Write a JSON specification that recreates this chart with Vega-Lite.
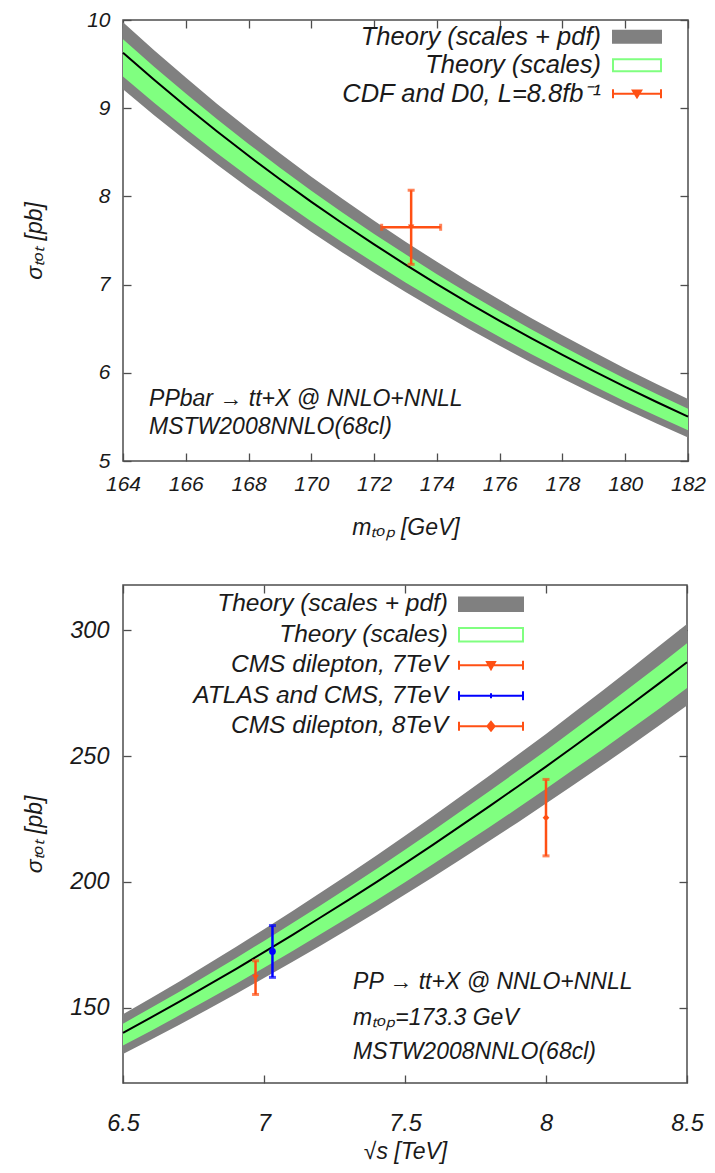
{
  "$schema": "https://vega.github.io/schema/vega-lite/v6.json",
  "background": "white",
  "padding": {"left": 22, "top": 8, "right": 0, "bottom": 0},
  "config": {
    "font": "Liberation Sans",
    "view": {"stroke": "#4d4d4d", "strokeWidth": 1.5},
    "axis": {"grid": false, "domain": false, "tickSize": -8, "tickWidth": 1.3, "tickColor": "#4d4d4d",
      "labelFont": "Liberation Sans", "labelFontStyle": "italic", "labelColor": "#1a1a1a", "labelFontSize": 21,
      "titleFont": "Liberation Sans", "titleFontStyle": "italic", "titleFontWeight": "normal", "titleFontSize": 23, "titleColor": "#1a1a1a",
      "labelOverlap": false, "labelFlush": false, "minExtent": 0}
  },
  "datasets": {
    "top_theory": [
      {"m":164,"c":9.628,"sLo":9.358,"sHi":9.782,"pLo":9.214,"pHi":9.975},
      {"m":165,"c":9.319,"sLo":9.058,"sHi":9.468,"pLo":8.918,"pHi":9.654},
      {"m":166,"c":9.022,"sLo":8.769,"sHi":9.166,"pLo":8.634,"pHi":9.347},
      {"m":167,"c":8.735,"sLo":8.490,"sHi":8.875,"pLo":8.359,"pHi":9.049},
      {"m":168,"c":8.460,"sLo":8.223,"sHi":8.595,"pLo":8.096,"pHi":8.765},
      {"m":169,"c":8.194,"sLo":7.965,"sHi":8.325,"pLo":7.842,"pHi":8.489},
      {"m":170,"c":7.938,"sLo":7.716,"sHi":8.065,"pLo":7.597,"pHi":8.224},
      {"m":171,"c":7.693,"sLo":7.478,"sHi":7.816,"pLo":7.362,"pHi":7.970},
      {"m":172,"c":7.456,"sLo":7.247,"sHi":7.575,"pLo":7.135,"pHi":7.724},
      {"m":173,"c":7.227,"sLo":7.025,"sHi":7.343,"pLo":6.916,"pHi":7.487},
      {"m":174,"c":7.006,"sLo":6.810,"sHi":7.118,"pLo":6.705,"pHi":7.258},
      {"m":175,"c":6.794,"sLo":6.604,"sHi":6.903,"pLo":6.502,"pHi":7.039},
      {"m":176,"c":6.590,"sLo":6.405,"sHi":6.695,"pLo":6.307,"pHi":6.827},
      {"m":177,"c":6.392,"sLo":6.213,"sHi":6.494,"pLo":6.117,"pHi":6.622},
      {"m":178,"c":6.202,"sLo":6.028,"sHi":6.301,"pLo":5.935,"pHi":6.425},
      {"m":179,"c":6.018,"sLo":5.850,"sHi":6.114,"pLo":5.759,"pHi":6.235},
      {"m":180,"c":5.840,"sLo":5.676,"sHi":5.933,"pLo":5.589,"pHi":6.050},
      {"m":181,"c":5.669,"sLo":5.510,"sHi":5.760,"pLo":5.425,"pHi":5.873},
      {"m":182,"c":5.504,"sLo":5.350,"sHi":5.592,"pLo":5.267,"pHi":5.702}
    ],
    "top_points": [
      {"series": "CDF and D0, L=8.8fb⁻¹", "x": 173.18, "xlo": 172.24, "xhi": 174.12, "y": 7.65, "ylo": 7.23, "yhi": 8.07}
    ],
    "bot_theory": [
      {"rs":6.5,"c":139.9,"sLo":134.9,"sHi":143.6,"pLo":131.5,"pHi":147.3},
      {"rs":6.6,"c":146.1,"sLo":140.8,"sHi":149.9,"pLo":137.3,"pHi":153.8},
      {"rs":6.7,"c":152.4,"sLo":146.9,"sHi":156.3,"pLo":143.2,"pHi":160.4},
      {"rs":6.8,"c":158.8,"sLo":153.1,"sHi":162.9,"pLo":149.2,"pHi":167.2},
      {"rs":6.9,"c":165.3,"sLo":159.4,"sHi":169.6,"pLo":155.4,"pHi":174.1},
      {"rs":7.0,"c":172.0,"sLo":165.8,"sHi":176.5,"pLo":161.7,"pHi":181.1},
      {"rs":7.1,"c":178.8,"sLo":172.4,"sHi":183.5,"pLo":168.1,"pHi":188.3},
      {"rs":7.2,"c":185.8,"sLo":179.1,"sHi":190.6,"pLo":174.6,"pHi":195.6},
      {"rs":7.3,"c":192.8,"sLo":185.9,"sHi":197.8,"pLo":181.2,"pHi":203.0},
      {"rs":7.4,"c":200.0,"sLo":192.8,"sHi":205.2,"pLo":188.0,"pHi":210.6},
      {"rs":7.5,"c":207.3,"sLo":199.8,"sHi":212.7,"pLo":194.9,"pHi":218.3},
      {"rs":7.6,"c":214.8,"sLo":207.1,"sHi":220.4,"pLo":201.9,"pHi":226.2},
      {"rs":7.7,"c":222.4,"sLo":214.4,"sHi":228.2,"pLo":209.1,"pHi":234.2},
      {"rs":7.8,"c":230.1,"sLo":221.8,"sHi":236.1,"pLo":216.3,"pHi":242.3},
      {"rs":7.9,"c":237.9,"sLo":229.3,"sHi":244.1,"pLo":223.6,"pHi":250.5},
      {"rs":8.0,"c":245.8,"sLo":237.0,"sHi":252.2,"pLo":231.1,"pHi":258.8},
      {"rs":8.1,"c":253.9,"sLo":244.8,"sHi":260.5,"pLo":238.7,"pHi":267.4},
      {"rs":8.2,"c":262.1,"sLo":252.6,"sHi":268.9,"pLo":246.3,"pHi":276.0},
      {"rs":8.3,"c":270.4,"sLo":260.6,"sHi":277.4,"pLo":254.1,"pHi":284.7},
      {"rs":8.4,"c":278.8,"sLo":268.7,"sHi":286.0,"pLo":262.0,"pHi":293.6},
      {"rs":8.5,"c":287.3,"sLo":277.0,"sHi":294.8,"pLo":270.1,"pHi":302.5}
    ],
    "bot_points": [
      {"series": "CMS dilepton, 7TeV", "x": 6.97, "y": 161.9, "ylo": 155.2, "yhi": 168.6},
      {"series": "ATLAS and CMS, 7TeV", "x": 7.03, "y": 172.3, "ylo": 162.0, "yhi": 182.6},
      {"series": "CMS dilepton, 8TeV", "x": 8.0, "y": 225.5, "ylo": 210.3, "yhi": 240.7}
    ]
  },
  "columns": 1,
  "spacing": 43,
  "resolve": {"scale": {"color": "independent", "shape": "independent"}, "legend": {"color": "independent"}},
  "concat": [
    {
      "width": 565,
      "height": 441,
      "resolve": {"axis": {"x": "independent", "y": "independent"}},
      "layer": [
        {
          "data": {"name": "top_theory"},
          "mark": {"type": "area", "color": "#808080", "opacity": 1},
          "encoding": {
            "x": {"field": "m", "type": "quantitative", "scale": {"domain": [164, 182], "nice": false, "zero": false},
              "axis": {"orient": "bottom", "values": [164,166,168,170,172,174,176,178,180,182], "format": "d", "title": "mₜₒₚ [GeV]", "labelPadding": 20, "titlePadding": 22}},
            "y": {"field": "pLo", "type": "quantitative", "scale": {"domain": [5, 10], "nice": false, "zero": false},
              "axis": {"orient": "left", "values": [5,6,7,8,9,10], "format": "d", "title": "σₜₒₜ [pb]", "labelPadding": 21, "titlePadding": 40.5}},
            "y2": {"field": "pHi"}
          }
        },
        {
          "data": {"name": "top_theory"},
          "mark": {"type": "area", "color": "#80ff80", "opacity": 1},
          "encoding": {
            "x": {"field": "m", "type": "quantitative", "axis": null},
            "y": {"field": "sLo", "type": "quantitative", "axis": null},
            "y2": {"field": "sHi"}
          }
        },
        {
          "data": {"name": "top_theory"},
          "mark": {"type": "line", "color": "black", "strokeWidth": 2},
          "encoding": {
            "x": {"field": "m", "type": "quantitative",
              "axis": {"orient": "top", "labels": false, "title": null, "values": [164,166,168,170,172,174,176,178,180,182]}},
            "y": {"field": "c", "type": "quantitative",
              "axis": {"orient": "right", "labels": false, "title": null, "values": [5,6,7,8,9,10]}}
          }
        },
        {
          "data": {"name": "top_points"},
          "mark": {"type": "rule", "strokeWidth": 2.5},
          "encoding": {
            "x": {"field": "xlo", "type": "quantitative", "axis": null},
            "x2": {"field": "xhi"},
            "y": {"field": "y", "type": "quantitative", "axis": null},
            "color": {"field": "series", "type": "nominal",
              "scale": {"domain": ["Theory (scales + pdf)", "Theory (scales)", "CDF and D0, L=8.8fb⁻¹"], "range": ["#808080", "#80ff80", "#ff5014"]},
              "legend": {
                "title": null, "orient": "none", "legendX": 490, "legendY": 4, "padding": 0,
                "symbolSize": 144, "symbolStrokeWidth": 2, "symbolOffset": 11.25, "rowPadding": 1.5,
                "labelAlign": "right", "labelOffset": -48.75, "labelFont": "Liberation Sans", "labelFontStyle": "italic",
                "labelFontSize": 25.5, "labelColor": "#1a1a1a", "labelLimit": 600,
                "symbolType": "M-4,-1H4V1H-4Z",
                "encode": {"symbols": {"update": {
                  "shape": {"signal": "datum.value === 'Theory (scales + pdf)' ? 'M-4,-1H4V1H-4Z' : datum.value === 'Theory (scales)' ? 'M-4,-1H4V1H-4ZM-4,-1V1H4V-1Z' : 'M-4,0H4M-4,-0.75V0.75M4,-0.75V0.75M-0.7,-0.55H0.7L0,0.6Z'"},
                  "opacity": {"value": 1}
                }}}
              }}
          }
        },
        {
          "data": {"name": "top_points"},
          "mark": {"type": "rule", "strokeWidth": 2.5},
          "encoding": {
            "x": {"field": "x", "type": "quantitative", "axis": null},
            "y": {"field": "ylo", "type": "quantitative", "axis": null},
            "y2": {"field": "yhi"},
            "color": {"field": "series", "type": "nominal", "legend": null}
          }
        },
        {
          "data": {"name": "top_points"},
          "mark": {"type": "tick", "orient": "horizontal", "size": 7, "thickness": 3},
          "encoding": {
            "x": {"field": "x", "type": "quantitative", "axis": null},
            "y": {"field": "ylo", "type": "quantitative", "axis": null},
            "color": {"field": "series", "type": "nominal", "legend": null}
          }
        },
        {
          "data": {"name": "top_points"},
          "mark": {"type": "tick", "orient": "horizontal", "size": 7, "thickness": 3},
          "encoding": {
            "x": {"field": "x", "type": "quantitative", "axis": null},
            "y": {"field": "yhi", "type": "quantitative", "axis": null},
            "color": {"field": "series", "type": "nominal", "legend": null}
          }
        },
        {
          "data": {"name": "top_points"},
          "mark": {"type": "tick", "orient": "vertical", "size": 7, "thickness": 3},
          "encoding": {
            "x": {"field": "xlo", "type": "quantitative", "axis": null},
            "y": {"field": "y", "type": "quantitative", "axis": null},
            "color": {"field": "series", "type": "nominal", "legend": null}
          }
        },
        {
          "data": {"name": "top_points"},
          "mark": {"type": "tick", "orient": "vertical", "size": 7, "thickness": 3},
          "encoding": {
            "x": {"field": "xhi", "type": "quantitative", "axis": null},
            "y": {"field": "y", "type": "quantitative", "axis": null},
            "color": {"field": "series", "type": "nominal", "legend": null}
          }
        },
        {
          "data": {"name": "top_points"},
          "mark": {"type": "point", "shape": "triangle-down", "filled": true, "size": 40, "opacity": 1},
          "encoding": {
            "x": {"field": "x", "type": "quantitative", "axis": null},
            "y": {"field": "y", "type": "quantitative", "axis": null},
            "color": {"field": "series", "type": "nominal", "legend": null}
          }
        },
        {
          "data": {"values": [{"t": "PPbar → tt+X @ NNLO+NNLL"}]},
          "mark": {"type": "text", "align": "left", "baseline": "middle", "fontSize": 23, "fontStyle": "italic", "color": "#1a1a1a"},
          "encoding": {
            "x": {"datum": 164.83, "type": "quantitative", "axis": null},
            "y": {"datum": 5.70, "type": "quantitative", "axis": null},
            "text": {"field": "t"}
          }
        },
        {
          "data": {"values": [{"t": "MSTW2008NNLO(68cl)"}]},
          "mark": {"type": "text", "align": "left", "baseline": "middle", "fontSize": 23, "fontStyle": "italic", "color": "#1a1a1a"},
          "encoding": {
            "x": {"datum": 164.83, "type": "quantitative", "axis": null},
            "y": {"datum": 5.39, "type": "quantitative", "axis": null},
            "text": {"field": "t"}
          }
        }
      ]
    },
    {
      "width": 564,
      "height": 498,
      "resolve": {"axis": {"x": "independent", "y": "independent"}},
      "layer": [
        {
          "data": {"name": "bot_theory"},
          "mark": {"type": "area", "color": "#808080", "opacity": 1},
          "encoding": {
            "x": {"field": "rs", "type": "quantitative", "scale": {"domain": [6.5, 8.5], "nice": false, "zero": false},
              "axis": {"orient": "bottom", "values": [6.5, 7, 7.5, 8, 8.5], "format": "~g", "title": "√s [TeV]", "labelFontSize": 23.5, "labelPadding": 36, "titlePadding": 5.5}},
            "y": {"field": "pLo", "type": "quantitative", "scale": {"domain": [120, 318], "nice": false, "zero": false},
              "axis": {"orient": "left", "values": [150, 200, 250, 300], "format": "d", "title": "σₜₒₜ [pb]", "labelFontSize": 23.5, "labelPadding": 22, "titlePadding": 23.5}},
            "y2": {"field": "pHi"}
          }
        },
        {
          "data": {"name": "bot_theory"},
          "mark": {"type": "area", "color": "#80ff80", "opacity": 1},
          "encoding": {
            "x": {"field": "rs", "type": "quantitative", "axis": null},
            "y": {"field": "sLo", "type": "quantitative", "axis": null},
            "y2": {"field": "sHi"}
          }
        },
        {
          "data": {"name": "bot_theory"},
          "mark": {"type": "line", "color": "black", "strokeWidth": 2},
          "encoding": {
            "x": {"field": "rs", "type": "quantitative",
              "axis": {"orient": "top", "labels": false, "title": null, "values": [6.5, 7, 7.5, 8, 8.5]}},
            "y": {"field": "c", "type": "quantitative",
              "axis": {"orient": "right", "labels": false, "title": null, "values": [150, 200, 250, 300]}}
          }
        },
        {
          "data": {"name": "bot_points"},
          "mark": {"type": "rule", "strokeWidth": 2.5},
          "encoding": {
            "x": {"field": "x", "type": "quantitative", "axis": null},
            "y": {"field": "ylo", "type": "quantitative", "axis": null},
            "y2": {"field": "yhi"},
            "color": {"field": "series", "type": "nominal",
              "scale": {"domain": ["Theory (scales + pdf)", "Theory (scales)", "CMS dilepton, 7TeV", "ATLAS and CMS, 7TeV", "CMS dilepton, 8TeV"], "range": ["#808080", "#80ff80", "#ff5014", "#0000ff", "#ff5014"]},
              "legend": {
                "title": null, "orient": "none", "legendX": 336, "legendY": 7, "padding": 0,
                "symbolSize": 256, "symbolStrokeWidth": 2, "symbolOffset": 19.75, "rowPadding": 5.5,
                "labelAlign": "right", "labelOffset": -55.25, "labelFont": "Liberation Sans", "labelFontStyle": "italic",
                "labelFontSize": 24.5, "labelColor": "#1a1a1a", "labelLimit": 600,
                "symbolType": "M-4,-0.85H4V0.85H-4Z",
                "encode": {"symbols": {"update": {
                  "shape": {"signal": "datum.value === 'Theory (scales + pdf)' ? 'M-4,-0.85H4V0.85H-4Z' : datum.value === 'Theory (scales)' ? 'M-4,-0.85H4V0.85H-4ZM-4,-0.85V0.85H4V-0.85Z' : datum.value === 'ATLAS and CMS, 7TeV' ? 'M-4,0H4M-4,-0.55V0.55M4,-0.55V0.55M0,-0.3V0.3' : datum.value === 'CMS dilepton, 8TeV' ? 'M-4,0H4M-4,-0.55V0.55M4,-0.55V0.55M0,-0.55L0.45,0L0,0.55L-0.45,0Z' : 'M-4,0H4M-4,-0.55V0.55M4,-0.55V0.55M-0.5,-0.4H0.5L0,0.5Z'"},
                  "opacity": {"value": 1}
                }}}
              }}
          }
        },
        {
          "data": {"name": "bot_points"},
          "mark": {"type": "tick", "orient": "horizontal", "size": 7, "thickness": 3},
          "encoding": {
            "x": {"field": "x", "type": "quantitative", "axis": null},
            "y": {"field": "ylo", "type": "quantitative", "axis": null},
            "color": {"field": "series", "type": "nominal", "legend": null}
          }
        },
        {
          "data": {"name": "bot_points"},
          "mark": {"type": "tick", "orient": "horizontal", "size": 7, "thickness": 3},
          "encoding": {
            "x": {"field": "x", "type": "quantitative", "axis": null},
            "y": {"field": "yhi", "type": "quantitative", "axis": null},
            "color": {"field": "series", "type": "nominal", "legend": null}
          }
        },
        {
          "data": {"name": "bot_points"},
          "mark": {"type": "point", "filled": true, "size": 45, "opacity": 1},
          "encoding": {
            "x": {"field": "x", "type": "quantitative", "axis": null},
            "y": {"field": "y", "type": "quantitative", "axis": null},
            "color": {"field": "series", "type": "nominal", "legend": null},
            "shape": {"field": "series", "type": "nominal", "legend": null,
              "scale": {"domain": ["CMS dilepton, 7TeV", "ATLAS and CMS, 7TeV", "CMS dilepton, 8TeV"], "range": ["triangle-down", "circle", "diamond"]}}
          }
        },
        {
          "data": {"values": [{"t": "PP → tt+X @ NNLO+NNLL"}]},
          "mark": {"type": "text", "align": "left", "baseline": "middle", "fontSize": 23, "fontStyle": "italic", "color": "#1a1a1a"},
          "encoding": {
            "x": {"datum": 7.316, "type": "quantitative", "axis": null},
            "y": {"datum": 160.0, "type": "quantitative", "axis": null},
            "text": {"field": "t"}
          }
        },
        {
          "data": {"values": [{"t": "mₜₒₚ=173.3 GeV"}]},
          "mark": {"type": "text", "align": "left", "baseline": "middle", "fontSize": 23, "fontStyle": "italic", "color": "#1a1a1a"},
          "encoding": {
            "x": {"datum": 7.316, "type": "quantitative", "axis": null},
            "y": {"datum": 145.9, "type": "quantitative", "axis": null},
            "text": {"field": "t"}
          }
        },
        {
          "data": {"values": [{"t": "MSTW2008NNLO(68cl)"}]},
          "mark": {"type": "text", "align": "left", "baseline": "middle", "fontSize": 23, "fontStyle": "italic", "color": "#1a1a1a"},
          "encoding": {
            "x": {"datum": 7.316, "type": "quantitative", "axis": null},
            "y": {"datum": 132.2, "type": "quantitative", "axis": null},
            "text": {"field": "t"}
          }
        }
      ]
    }
  ]
}
